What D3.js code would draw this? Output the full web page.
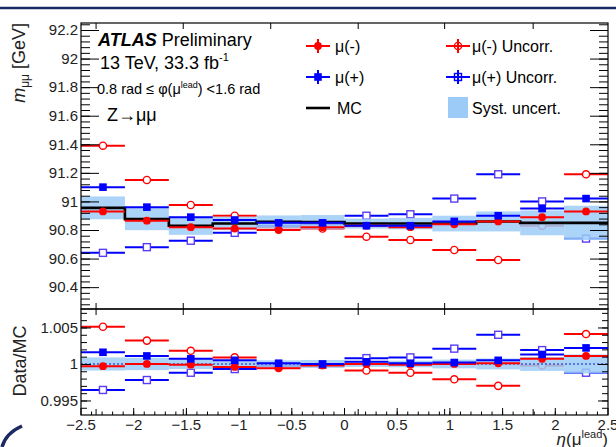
<!DOCTYPE html>
<html>
<head>
<meta charset="utf-8">
<script src="https://cdn.jsdelivr.net/npm/d3@7"></script>
<style>
  body { margin: 0; background: #fff; }
  svg { display: block; font-family: "Liberation Sans", Arial, Helvetica, sans-serif; }
</style>
</head>
<body>
<svg id="chart" width="616" height="447"></svg>
<script>
// Бины по eta(mu lead)
const binEdges = [-2.5, -2.0833, -1.6667, -1.25, -0.8333, -0.4167, 0, 0.4167, 0.8333, 1.25, 1.6667, 2.0833, 2.5];

// Верхняя панель: m_mumu [GeV]
const muMinus       = [90.93, 90.865, 90.82, 90.81, 90.80, 90.82, 90.83, 90.82, 90.84, 90.86, 90.89, 90.93];
const muPlus        = [91.10, 90.96, 90.89, 90.87, 90.85, 90.85, 90.83, 90.83, 90.86, 90.90, 90.95, 91.02];
const muMinusUncorr = [91.39, 91.15, 90.975, 90.90, 90.82, 90.81, 90.753, 90.73, 90.66, 90.59, 90.83, 91.19];
const muPlusUncorr  = [90.64, 90.68, 90.725, 90.78, 90.83, 90.84, 90.90, 90.91, 91.02, 91.19, 91.00, 90.74];
const mc            = [90.955, 90.876, 90.83, 90.846, 90.857, 90.855, 90.845, 90.845, 90.845, 90.86, 90.85, 90.85];
const mcSyst        = [0.08, 0.077, 0.064, 0.047, 0.045, 0.05, 0.035, 0.04, 0.055, 0.07, 0.087, 0.12];

// Нижняя панель: Data/MC
const ratioMinus       = [0.9997, 1.0, 0.9999, 0.9996, 0.9994, 0.9998, 1.0, 0.9999, 1.0, 1.0001, 1.0007, 1.0011];
const ratioPlus        = [1.0016, 1.0011, 1.0007, 1.0005, 1.0001, 1.0, 1.0003, 1.0001, 1.0002, 1.0005, 1.0013, 1.0022];
const ratioMinusUncorr = [1.0051, 1.0032, 1.0018, 1.0009, 0.9997, 0.9999, 0.9991, 0.9988, 0.9979, 0.9970, 0.9998, 1.0041];
const ratioPlusUncorr  = [0.99644, 0.9978, 0.9988, 0.9993, 0.9998, 0.9999, 1.0008, 1.0009, 1.0021, 1.0040, 1.0019, 0.9988];
const ratioSyst        = [0.0009, 0.00085, 0.0007, 0.0005, 0.0005, 0.00055, 0.0004, 0.00045, 0.0006, 0.00075, 0.00095, 0.0013];

// Деления осей
const massTicks  = [90.4, 90.6, 90.8, 91, 91.2, 91.4, 91.6, 91.8, 92, 92.2];
const ratioTicks = [0.995, 1, 1.005];
const etaTicks   = [-2.5, -2, -1.5, -1, -0.5, 0, 0.5, 1, 1.5, 2, 2.5];
const oddTicks   = [-2.357, -1.53, -0.70, 0.13, 0.95, 1.79];

const left = 81, right = 608;
const upTop = 23, upBottom = 309, lowTop = 309, lowBottom = 415;

const svg = d3.select('#chart');

const x = d3.scaleLinear().domain([-2.5, 2.5]).range([left, right]);
const yUp = d3.scaleLinear().domain([90.247, 92.249]).range([upBottom, upTop]);
const yLow = d3.scaleLinear().domain([0.99301, 1.00753]).range([lowBottom, lowTop]);

const centers = d3.range(binEdges.length - 1).map(i => (binEdges[i] + binEdges[i + 1]) / 2);

// Рамка слайда
svg.append('line').attr('x1', 0).attr('x2', 616).attr('y1', 8).attr('y2', 8)
   .attr('stroke', '#1b2a63').attr('stroke-width', 2.5);
svg.append('path').attr('d', 'M22,426 Q6,433 2,447')
   .attr('fill', 'none').attr('stroke', '#1b2a63').attr('stroke-width', 3.5);

// Полоса систематики
function band(g, y, center, half, opacity) {
    g.selectAll(null).data(center).enter().append('rect')
        .attr('x', (d, i) => x(binEdges[i]))
        .attr('width', (d, i) => x(binEdges[i + 1]) - x(binEdges[i]))
        .attr('y', (d, i) => y(d + half[i]))
        .attr('height', (d, i) => y(d - half[i]) - y(d + half[i]))
        .attr('fill', '#9dcbf7').attr('opacity', opacity);
}

// Серия точек с горизонтальными "ошибками" на ширину бина
function series(g, y, values, color, shape, open, edge) {
    g.selectAll(null).data(values).enter().append('line')
        .attr('x1', (d, i) => x(binEdges[i]))
        .attr('x2', (d, i) => x(binEdges[i + 1]))
        .attr('y1', d => y(d)).attr('y2', d => y(d))
        .attr('stroke', color).attr('stroke-width', 2);
    marker(g, values.map((d, i) => [x(centers[i]), y(d)]), color, shape, open ? '#fff' : color, edge);
}

function marker(g, pts, color, shape, fill, edge) {
    const open = fill !== color;
    if (shape === 'circle') {
        g.selectAll(null).data(pts).enter().append('circle')
            .attr('cx', d => d[0]).attr('cy', d => d[1]).attr('r', open ? 3.6 : 3.9)
            .attr('fill', fill)
            .attr('stroke', edge || color).attr('stroke-width', open ? 1.4 : 0);
    } else {
        const s = open ? 7 : 7.6;
        g.selectAll(null).data(pts).enter().append('rect')
            .attr('x', d => d[0] - s / 2).attr('y', d => d[1] - s / 2)
            .attr('width', s).attr('height', s)
            .attr('fill', fill)
            .attr('stroke', edge || color).attr('stroke-width', open ? 1.4 : 0);
    }
}

// Ступенчатая линия MC
function mcLine(g, y, values, dotted) {
    const pts = [];
    values.forEach((d, i) => { pts.push([x(binEdges[i]), y(d)]); pts.push([x(binEdges[i + 1]), y(d)]); });
    g.append('path').attr('d', d3.line()(pts)).attr('fill', 'none')
        .attr('stroke', dotted ? '#3a5bd0' : '#000')
        .attr('stroke-width', dotted ? 1.6 : 2.6)
        .attr('stroke-dasharray', dotted ? '2,2' : null);
}

// Оси Y: большие и малые деления внутрь, слева и справа
function yAxes(y, majors, minors, majLen, minLen, fmt) {
    const pairs = [[d3.axisLeft, left, true], [d3.axisRight, right, false]];
    pairs.forEach(([axis, pos, labels]) => {
        const gMaj = svg.append('g').attr('transform', `translate(${pos},0)`)
            .call(axis(y).tickValues(majors).tickSize(-majLen).tickSizeOuter(0).tickPadding(3)
                .tickFormat(labels ? fmt : () => ''));
        const gMin = svg.append('g').attr('transform', `translate(${pos},0)`)
            .call(axis(y).tickValues(minors).tickSize(-minLen).tickSizeOuter(0).tickFormat(() => ''));
        [gMaj, gMin].forEach(a => {
            a.select('.domain').remove();
            a.selectAll('line').attr('stroke', '#000');
            a.selectAll('text').attr('font-size', 15).attr('fill', '#222')
                .attr('font-family', '"Liberation Sans", Arial, sans-serif');
        });
    });
}

// Деления по X (верх/низ каждой панели)
function xTicks(yPos, values, len) {
    svg.append('g').selectAll(null).data(values).enter().append('line')
        .attr('x1', d => x(d)).attr('x2', d => x(d))
        .attr('y1', yPos).attr('y2', yPos + len)
        .attr('stroke', '#000').attr('stroke-width', 1);
}

const minus = d => (d < 0 ? '\u2212' + Math.abs(d) : String(d));

// ---- верхняя панель ----
const gUp = svg.append('g');
series(gUp, yUp, muMinusUncorr, '#ff0000', 'circle', true);
series(gUp, yUp, muPlusUncorr, '#0000ff', 'square', true, '#5a3cf5');
band(gUp, yUp, mc, mcSyst, 0.85);
mcLine(gUp, yUp, mc, false);
series(gUp, yUp, muMinus, '#ff0000', 'circle', false);
series(gUp, yUp, muPlus, '#0000ff', 'square', false);

// ---- нижняя панель ----
const gLow = svg.append('g');
series(gLow, yLow, ratioMinusUncorr, '#ff0000', 'circle', true);
series(gLow, yLow, ratioPlusUncorr, '#0000ff', 'square', true, '#5a3cf5');
band(gLow, yLow, ratioSyst.map(() => 1), ratioSyst, 0.85);
mcLine(gLow, yLow, ratioSyst.map(() => 1), true);
series(gLow, yLow, ratioMinus, '#ff0000', 'circle', false);
series(gLow, yLow, ratioPlus, '#0000ff', 'square', false);

// Рамки панелей
svg.append('rect').attr('x', left).attr('y', upTop).attr('width', right - left).attr('height', upBottom - upTop)
   .attr('fill', 'none').attr('stroke', '#000').attr('stroke-width', 1.2);
svg.append('rect').attr('x', left).attr('y', lowTop).attr('width', right - left).attr('height', lowBottom - lowTop)
   .attr('fill', 'none').attr('stroke', '#000').attr('stroke-width', 1.2);

yAxes(yUp, massTicks, d3.range(90.28, 92.25, 0.04), 18, 9, d => String(+d.toFixed(1)));
yAxes(yLow, ratioTicks, d3.range(0.994, 1.0075, 0.001), 10, 6, d => String(+d.toFixed(3)));

xTicks(upTop, oddTicks, 6);
xTicks(upBottom, oddTicks, -6);
xTicks(lowTop, oddTicks, 6);
xTicks(lowBottom, oddTicks, -6);
xTicks(lowBottom, d3.range(-2.4, 2.45, 0.1), -3.5);
xTicks(lowBottom, etaTicks, -7);

// Подписи делений X
svg.append('g').selectAll(null).data(etaTicks).enter().append('text')
   .attr('x', d => x(d)).attr('y', 430).attr('text-anchor', 'middle')
   .attr('font-size', 15).attr('fill', '#222').text(minus);

// Заголовки осей
const tx = svg.append('text').attr('x', 608).attr('y', 445).attr('text-anchor', 'end')
   .attr('font-size', 17).attr('fill', '#222');
tx.append('tspan').attr('font-style', 'italic').text('\u03b7');
tx.append('tspan').text('(\u03bc');
tx.append('tspan').attr('font-size', 11).attr('dy', -7).text('lead');
tx.append('tspan').attr('dy', 7).text(')');

const tyUp = svg.append('text').attr('transform', 'translate(25,23) rotate(-90)')
   .attr('text-anchor', 'end').attr('font-size', 18).attr('fill', '#222');
tyUp.append('tspan').attr('font-style', 'italic').text('m');
tyUp.append('tspan').attr('font-size', 12).attr('dy', 4).text('\u03bc\u03bc');
tyUp.append('tspan').attr('dy', -4).text(' [GeV]');

svg.append('text').attr('transform', 'translate(26,361) rotate(-90)')
   .attr('text-anchor', 'middle').attr('font-size', 18).attr('fill', '#222').text('Data/MC');

// Надписи ATLAS
const t1 = svg.append('text').attr('x', 98).attr('y', 46).attr('font-size', 18);
t1.append('tspan').attr('font-weight', 'bold').attr('font-style', 'italic').text('ATLAS');
t1.append('tspan').text(' Preliminary');

const t2 = svg.append('text').attr('x', 100).attr('y', 69).attr('font-size', 18);
t2.append('tspan').text('13 TeV, 33.3 fb');
t2.append('tspan').attr('font-size', 11).attr('dy', -8).text('-1');

const t3 = svg.append('text').attr('x', 97).attr('y', 94).attr('font-size', 14.5);
t3.append('tspan').text('0.8 rad \u2264 \u03c6(\u03bc');
t3.append('tspan').attr('font-size', 9).attr('dy', -6).text('lead');
t3.append('tspan').attr('dy', 6).text(') <1.6 rad');

svg.append('text').attr('x', 107).attr('y', 121).attr('font-size', 18).text('Z\u2192\u03bc\u03bc');

// Легенда
const legend = svg.append('g');
const rows = [46, 77, 108];

function legendEntry(cx, cy, color, shape, open, edge) {
    legend.append('line').attr('x1', cx - 12).attr('x2', cx + 12).attr('y1', cy).attr('y2', cy)
        .attr('stroke', color).attr('stroke-width', 2);
    legend.append('line').attr('x1', cx).attr('x2', cx).attr('y1', cy - 7).attr('y2', cy + 7)
        .attr('stroke', color).attr('stroke-width', 2);
    marker(legend, [[cx, cy]], color, shape, open ? 'none' : color, edge);
}

legendEntry(318, rows[0], '#ff0000', 'circle', false);
legendEntry(318, rows[1], '#0000ff', 'square', false);
legend.append('line').attr('x1', 306).attr('x2', 330).attr('y1', rows[2]).attr('y2', rows[2])
    .attr('stroke', '#000').attr('stroke-width', 2.6);
legendEntry(458, rows[0], '#ff0000', 'circle', true);
legendEntry(458, rows[1], '#0000ff', 'square', true);
legend.append('rect').attr('x', 448).attr('y', 97).attr('width', 20).attr('height', 21).attr('fill', '#9dcbf7');

const labels = [[335, rows[0], '\u03bc(-)'], [335, rows[1], '\u03bc(+)'], [337, rows[2], 'MC'],
                [472, rows[0], '\u03bc(-) Uncorr.'], [472, rows[1], '\u03bc(+) Uncorr.'], [472, rows[2], 'Syst. uncert.']];
legend.selectAll(null).data(labels).enter().append('text')
    .attr('x', d => d[0]).attr('y', d => d[1] + 6).attr('font-size', 16).text(d => d[2]);
</script>
</body>
</html>
